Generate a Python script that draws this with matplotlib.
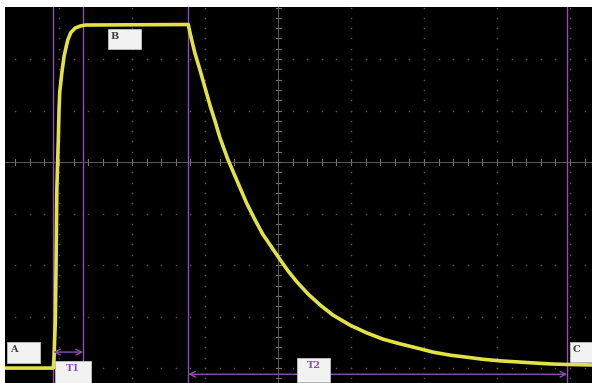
import numpy as np
import matplotlib.pyplot as plt

# trace, in scope divisions (0,0 = screen centre)
rise_x = [-3.74, -3.12, -3.08, -3.07, -3.05, -3.04, -3.03, -3.01, -3.00, -2.99,
          -2.96, -2.93, -2.90, -2.88, -2.84, -2.78, -2.71, -2.64]
rise_y = [-4.00, -4.00, -4.00, -3.85, -3.07, -1.90, -0.54, 0.43, 1.01, 1.36,
          1.75, 2.06, 2.25, 2.37, 2.51, 2.60, 2.64, 2.66]

fall_x = [-1.23, -1.19, -1.14, -1.07, -1.00, -0.93, -0.86, -0.80, -0.69, -0.56,
          -0.43, -0.32, -0.21, -0.08, 0.03, 0.14, 0.26, 0.41, 0.58, 0.75,
          0.99, 1.22, 1.44, 1.67, 1.90, 2.12, 2.36, 2.59, 2.81, 3.04,
          3.27, 3.49, 3.73, 3.96, 4.30]
fall_y = [2.67, 2.41, 2.12, 1.79, 1.44, 1.09, 0.78, 0.49, 0.06, -0.37,
          -0.80, -1.11, -1.40, -1.67, -1.90, -2.12, -2.33, -2.56, -2.78, -2.97,
          -3.17, -3.32, -3.44, -3.53, -3.61, -3.69, -3.75, -3.79, -3.83, -3.86,
          -3.88, -3.90, -3.92, -3.93, -3.94]

# cursor positions (div)
cursors = [-3.08, -2.67, -1.23, 3.96]
t1_span = (-3.08, -2.67)
t2_span = (-1.23, 3.96)

trace_x = rise_x + fall_x
trace_y = rise_y + fall_y

fig = plt.figure(figsize=(5.92, 3.83), dpi=100, facecolor='white')
ax = fig.add_axes([5 / 592, 0, 587 / 592, 376 / 383])
ax.set_facecolor('black')
ax.set_xlim(-3.74, 4.30)
ax.set_ylim(-4.29, 3.01)
ax.set_xticks([])
ax.set_yticks([])
for s in ax.spines.values():
    s.set_visible(False)

grid_col = '#6e6e6e'
dot_col = '#555555'
# dotted major grid
for gx in range(-3, 5):
    if gx == 0:
        continue
    ys = np.arange(-4.2, 3.01, 0.2)
    ax.plot([gx] * len(ys), ys, ls='none', marker='s', ms=1.0, mew=0, color=dot_col)
for gy in range(-4, 3):
    if gy == 0:
        continue
    xs = np.arange(-3.6, 4.31, 0.2)
    ax.plot(xs, [gy] * len(xs), ls='none', marker='s', ms=1.0, mew=0, color=dot_col)

# centre axes with minor ticks
ax.axhline(0, color=grid_col, lw=0.7, alpha=0.8)
ax.axvline(0, color=grid_col, lw=0.7, alpha=0.8)
for tx in np.arange(-3.6, 4.31, 0.2):
    ax.plot([tx, tx], [-0.05, 0.05], color=grid_col, lw=0.8)
for ty in np.arange(-4.2, 3.01, 0.2):
    ax.plot([-0.035, 0.035], [ty, ty], color=grid_col, lw=0.8)

# cursors
purple = '#8e4fb0'
for cx in cursors:
    ax.axvline(cx, color=purple, lw=1.0)
ax.annotate('', xy=(t1_span[0], -3.69), xytext=(t1_span[1], -3.69),
            arrowprops=dict(arrowstyle='<->', color=purple, lw=1.0, shrinkA=0, shrinkB=0))
ax.annotate('', xy=(t2_span[0], -4.12), xytext=(t2_span[1], -4.12),
            arrowprops=dict(arrowstyle='<->', color=purple, lw=1.0, shrinkA=0, shrinkB=0))

# the trace
ax.plot(trace_x, trace_y, color='#e2e244', lw=2.6, solid_capstyle='butt', solid_joinstyle='round')

# label boxes
def label_box(x0, x1, y0, y1, text, color, ha='left'):
    ax.add_patch(plt.Rectangle((x0, y0), x1 - x0, y1 - y0, facecolor='#f2f2f2',
                               edgecolor='#d0d0d0', lw=0.5, zorder=5))
    tx = x0 + 0.04 if ha == 'left' else (x0 + x1) / 2
    ax.text(tx, y1 - 0.06, text, color=color, ha=ha, va='top', fontsize=7,
            fontweight='bold', family='DejaVu Serif', zorder=6)

label_box(-3.71, -3.26, -3.90, -3.50, 'A', '#404040')
label_box(-2.33, -1.88, 2.19, 2.58, 'B', '#404040')
label_box(-3.05, -2.56, -4.29, -3.86, 'T1', purple, ha='center')
label_box(0.26, 0.71, -4.27, -3.81, 'T2', purple, ha='center')
label_box(4.00, 4.35, -3.88, -3.50, 'C', '#404040')

fig.savefig('out.png', dpi=100, facecolor='white')
